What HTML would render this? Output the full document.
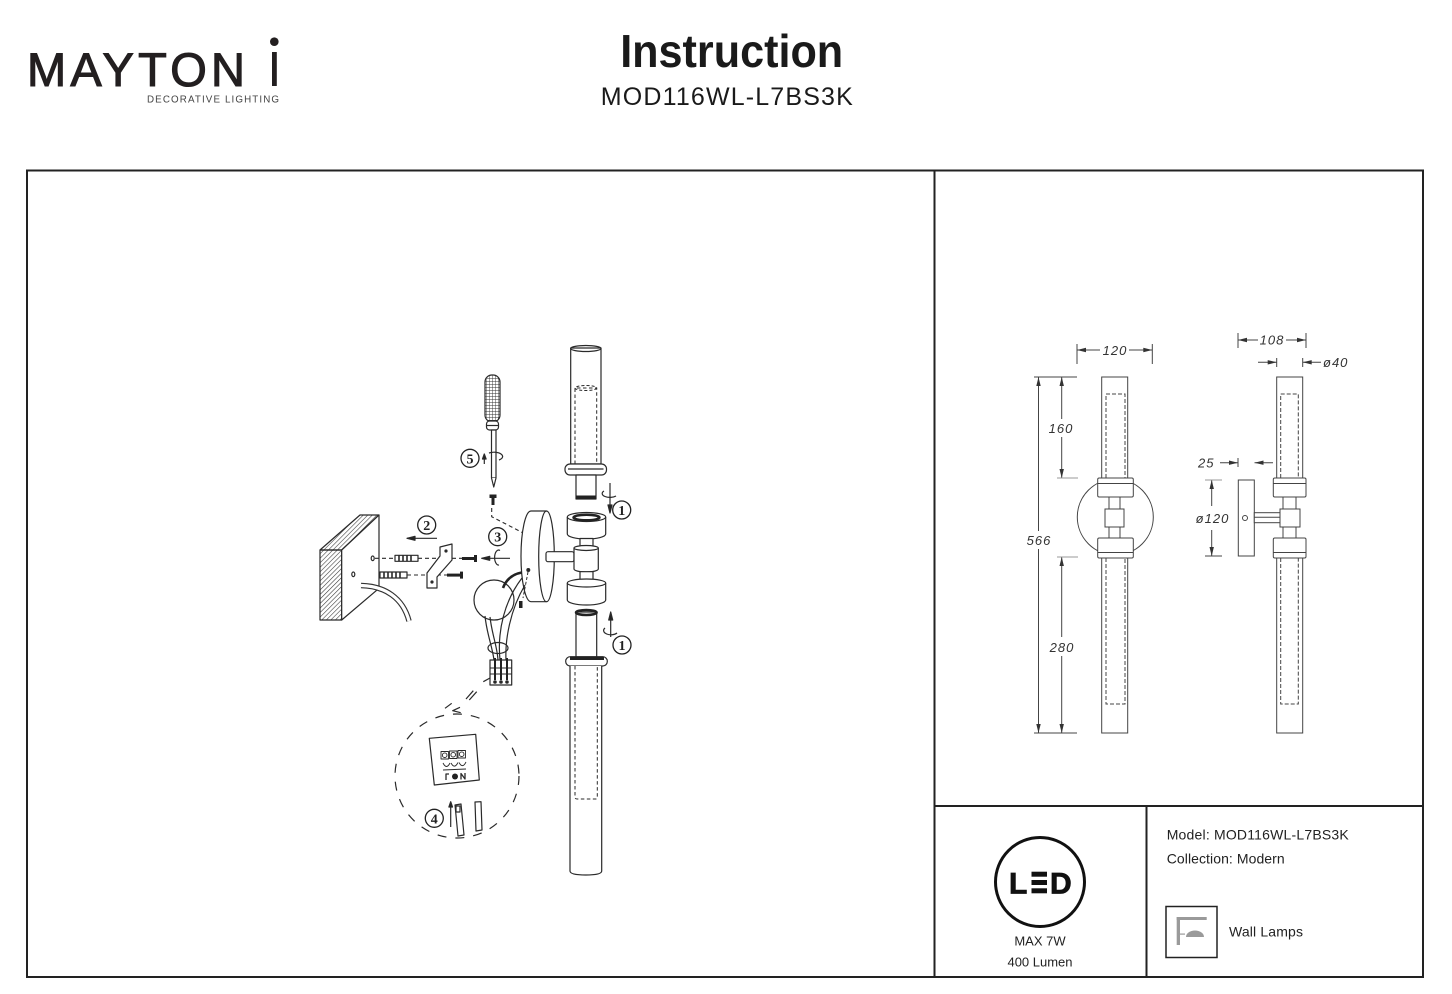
<!DOCTYPE html>
<html><head><meta charset="utf-8"><style>
html,body{margin:0;padding:0;background:#fff;}
svg{display:block;}
</style></head><body>
<svg width="1452" height="994" viewBox="0 0 1452 994" xmlns="http://www.w3.org/2000/svg" font-family="'Liberation Sans', sans-serif">
<defs>
<pattern id="hatch" width="3.2" height="3.2" patternUnits="userSpaceOnUse" patternTransform="rotate(45)"><line x1="0" y1="0" x2="0" y2="3.2" stroke="#333" stroke-width="1.1"/></pattern>
<pattern id="grid" width="3" height="3" patternUnits="userSpaceOnUse"><path d="M0 0H3M0 0V3" stroke="#333" stroke-width="0.9" fill="none"/></pattern>
</defs>

<!-- Logo -->
<text x="27" y="86" font-size="47" fill="#231f20" stroke="#231f20" stroke-width="1.1" textLength="218">MAYTON</text>
<rect x="272" y="52" width="4.8" height="34" fill="#231f20"/>
<circle cx="274.3" cy="41.7" r="4.3" fill="#231f20"/>
<text x="147" y="102.5" font-size="9.8" fill="#444" textLength="132">DECORATIVE LIGHTING</text>

<!-- Title -->
<text x="731.7" y="67" font-size="46" font-weight="bold" fill="#1a1a1a" text-anchor="middle" textLength="223" lengthAdjust="spacingAndGlyphs">Instruction</text>
<text x="726.8" y="105" font-size="25" fill="#1a1a1a" text-anchor="middle" textLength="252">MOD116WL-L7BS3K</text>

<!-- Frame -->
<g stroke="#222" stroke-width="2" fill="none">
<rect x="27" y="170.5" width="1396" height="806.5"/>
<line x1="934.5" y1="170" x2="934.5" y2="977"/>
<line x1="934" y1="806" x2="1423" y2="806"/>
<line x1="1146.5" y1="806" x2="1146.5" y2="977"/>
</g>

<!-- ===== Dimension drawing: front view ===== -->
<g stroke="#444" stroke-width="1" fill="none">
<circle cx="1115.3" cy="517" r="38"/>
<rect x="1101.7" y="377" width="26" height="101" fill="#fff"/>
<rect x="1101.7" y="558" width="26" height="175" fill="#fff"/>
<path d="M1106 478V394H1125V478" stroke-dasharray="4 2"/>
<path d="M1106 558V704H1125V558" stroke-dasharray="4 2"/>
<rect x="1097.7" y="478" width="35.6" height="19" rx="1.5" fill="#fff"/>
<line x1="1097.7" y1="483.5" x2="1133.3" y2="483.5"/>
<rect x="1097.7" y="538" width="35.6" height="20" rx="1.5" fill="#fff"/>
<line x1="1097.7" y1="552.5" x2="1133.3" y2="552.5"/>
<rect x="1109" y="497" width="11" height="12" fill="#fff"/>
<rect x="1109" y="527" width="11" height="11" fill="#fff"/>
<rect x="1105" y="509" width="19" height="18" fill="#fff"/>
</g>
<g stroke="#444" stroke-width="1">
<line x1="1077" y1="344" x2="1077" y2="364"/>
<line x1="1152.3" y1="344" x2="1152.3" y2="364"/>
<line x1="1077" y1="350" x2="1100" y2="350"/>
<line x1="1129" y1="350" x2="1152.3" y2="350"/>
<line x1="1038.5" y1="377" x2="1038.5" y2="531"/>
<line x1="1038.5" y1="549" x2="1038.5" y2="733"/>
<line x1="1061.7" y1="377" x2="1061.7" y2="419"/>
<line x1="1061.7" y1="437" x2="1061.7" y2="478"/>
<line x1="1061.7" y1="557" x2="1061.7" y2="637"/>
<line x1="1061.7" y1="656" x2="1061.7" y2="733"/>
<line x1="1034" y1="377" x2="1077" y2="377"/>
<line x1="1034" y1="733" x2="1077" y2="733"/>
<line x1="1057" y1="478" x2="1078" y2="478" stroke="#999"/>
<line x1="1057" y1="557" x2="1078" y2="557" stroke="#999"/>
</g>
<g fill="#333">
<polygon points="1077,350 1086,347.8 1086,352.2"/>
<polygon points="1152.3,350 1143.3,347.8 1143.3,352.2"/>
<polygon points="1038.5,377 1036.3,386 1040.7,386"/>
<polygon points="1038.5,733 1036.3,724 1040.7,724"/>
<polygon points="1061.7,377 1059.5,386 1063.9,386"/>
<polygon points="1061.7,478 1059.5,469 1063.9,469"/>
<polygon points="1061.7,557 1059.5,566 1063.9,566"/>
<polygon points="1061.7,733 1059.5,724 1063.9,724"/>
</g>
<g font-size="13" font-style="italic" fill="#333" text-anchor="middle" letter-spacing="1">
<text x="1115" y="355">120</text>
<text x="1039" y="545">566</text>
<text x="1061" y="433">160</text>
<text x="1062" y="652">280</text>
</g>

<!-- ===== Dimension drawing: side view ===== -->
<g stroke="#444" stroke-width="1" fill="none">
<rect x="1276.7" y="377" width="26" height="101" fill="#fff"/>
<rect x="1276.7" y="558" width="26" height="175" fill="#fff"/>
<path d="M1280.7 478V394H1298.3V478" stroke-dasharray="4 2"/>
<path d="M1280.7 558V704H1298.3V558" stroke-dasharray="4 2"/>
<rect x="1273.3" y="478" width="32.7" height="19" rx="1.5" fill="#fff"/>
<line x1="1273.3" y1="483.5" x2="1306" y2="483.5"/>
<rect x="1273.3" y="538" width="32.7" height="20" rx="1.5" fill="#fff"/>
<line x1="1273.3" y1="552.5" x2="1306" y2="552.5"/>
<rect x="1283" y="497" width="13" height="12" fill="#fff"/>
<rect x="1283" y="527" width="13" height="11" fill="#fff"/>
<rect x="1280" y="509" width="20" height="18" fill="#fff"/>
<rect x="1238.3" y="480" width="16" height="76" fill="#fff"/>
<circle cx="1245" cy="518" r="2.5"/>
<rect x="1254.3" y="512.7" width="25.7" height="10" fill="#fff"/>
<line x1="1254.3" y1="517.2" x2="1280" y2="517.2"/>
</g>
<g stroke="#444" stroke-width="1">
<line x1="1238" y1="333" x2="1238" y2="348"/>
<line x1="1306" y1="333" x2="1306" y2="348"/>
<line x1="1238" y1="340" x2="1258" y2="340"/>
<line x1="1286" y1="340" x2="1306" y2="340"/>
<line x1="1258" y1="362.3" x2="1276.7" y2="362.3"/>
<line x1="1276.7" y1="358" x2="1276.7" y2="367"/>
<line x1="1302.7" y1="358" x2="1302.7" y2="367"/>
<line x1="1302.7" y1="362.3" x2="1321" y2="362.3"/>
<line x1="1220" y1="462.7" x2="1238" y2="462.7"/>
<line x1="1238" y1="458" x2="1238" y2="467"/>
<line x1="1254.5" y1="462.7" x2="1273" y2="462.7"/>
<line x1="1211.7" y1="480" x2="1211.7" y2="506"/>
<line x1="1211.7" y1="530" x2="1211.7" y2="556"/>
<line x1="1205" y1="480" x2="1222" y2="480" stroke="#999"/>
<line x1="1205" y1="556" x2="1222" y2="556"/>
</g>
<g fill="#333">
<polygon points="1238,340 1247,337.8 1247,342.2"/>
<polygon points="1306,340 1297,337.8 1297,342.2"/>
<polygon points="1276.7,362.3 1267.7,360.1 1267.7,364.5"/>
<polygon points="1302.7,362.3 1311.7,360.1 1311.7,364.5"/>
<polygon points="1238,462.7 1229,460.5 1229,464.9"/>
<polygon points="1254.5,462.7 1263.5,460.5 1263.5,464.9"/>
<polygon points="1211.7,480 1209.5,489 1213.9,489"/>
<polygon points="1211.7,556 1209.5,547 1213.9,547"/>
</g>
<g font-size="13" font-style="italic" fill="#333" letter-spacing="1">
<text x="1272" y="344.5" text-anchor="middle">108</text>
<text x="1323" y="367">ø40</text>
<text x="1198" y="467.5">25</text>
<text x="1212.5" y="523" text-anchor="middle">ø120</text>
</g>

<!-- ===== Exploded assembly diagram ===== -->
<g stroke="#2a2a2a" stroke-width="1.2" fill="none" stroke-linejoin="round">
<!-- wall block -->
<polygon points="320,550 360,515 379,515 341.7,550" fill="url(#hatch)"/>
<polygon points="320,550 341.7,550 341.7,620 320,620" fill="url(#hatch)"/>
<polygon points="341.7,550 379,515 379,588.3 341.7,620" fill="#fff"/>
<ellipse cx="372.7" cy="558.3" rx="1.5" ry="2.3"/>
<ellipse cx="353.3" cy="574.3" rx="1.5" ry="2.3"/>
<path d="M361 585.5 C385 586 403 598 409 621" stroke="#333" stroke-width="5.5"/>
<path d="M361 585.5 C385 586 403 598 409 621" stroke="#fff" stroke-width="3.2"/>

<!-- dashed guide lines -->
<g stroke-dasharray="4 3" stroke-width="1.1">
<line x1="375" y1="558.3" x2="395" y2="558.3"/>
<line x1="418" y1="558.3" x2="440" y2="558.3"/>
<line x1="452" y1="558.3" x2="462" y2="558.3"/>
<line x1="407" y1="575" x2="427" y2="575"/>
<line x1="437" y1="575" x2="447" y2="575"/>
<path d="M491.7 508V516.7L522.7 532.7"/>
</g>

<!-- anchors -->
<rect x="395" y="555.3" width="23" height="6" fill="#fff"/>
<path d="M399 555.3V561.3M403 555.3V561.3M407 555.3V561.3M411 555.3V561.3" stroke-width="1.6"/>
<rect x="380" y="572" width="27" height="6" fill="#fff"/>
<path d="M384 572V578M388 572V578M392 572V578M396 572V578M400 572V578" stroke-width="1.6"/>

<!-- bracket -->
<polygon points="440,547 452,544 452,560 437,577 437,588 427,588 427,573 440,556" fill="#fff"/>
<circle cx="446" cy="551" r="1" fill="#333"/>
<circle cx="432" cy="582" r="1" fill="#333"/>

<!-- screws -->
<rect x="462" y="557" width="12" height="3" fill="#222" stroke="none"/>
<rect x="474" y="555" width="3" height="7" fill="#222" stroke="none"/>
<rect x="447" y="573.6" width="13" height="3" fill="#222" stroke="none"/>
<rect x="460" y="571.6" width="3" height="7" fill="#222" stroke="none"/>

<!-- step 2 arrow -->
<line x1="407" y1="538.3" x2="437" y2="538.3"/>
<polygon points="407,538.3 415,536.3 415,540.3" fill="#222"/>

<!-- step 3 rotate arrow -->
<line x1="481.7" y1="558.3" x2="510" y2="558.3"/>
<polygon points="481.7,558.3 489.7,556.3 489.7,560.3" fill="#222"/>
<path d="M500 550.5 A4 7.5 0 1 0 499 565"/>

<!-- screwdriver -->
<rect x="485" y="375" width="15" height="47" rx="7" fill="url(#grid)"/>
<rect x="486.5" y="421" width="12" height="9" rx="3" fill="#fff"/>
<line x1="486.5" y1="425.5" x2="498.5" y2="425.5"/>
<rect x="491.5" y="430" width="4.5" height="48" fill="#fff"/>
<path d="M491.5 478L493.75 487L496 478" fill="#fff"/>
<rect x="489.5" y="494.5" width="7" height="3.5" fill="#222" stroke="none"/>
<rect x="491.5" y="498" width="3" height="7" fill="#222" stroke="none"/>
<line x1="484.3" y1="456" x2="484.3" y2="464"/>
<polygon points="484.3,454 482.5,459 486.1,459" fill="#222"/>
<path d="M489 453 A7 3.5 0 1 1 499 460"/>

<!-- wall plate disc -->
<path d="M531 511 L546.5 511 A7.8 45.3 0 0 1 546.5 601.7 L531 601.7 A10 45.3 0 0 1 531 511Z" fill="#fff"/>
<path d="M546.5 511 A7.8 45.3 0 0 0 546.5 601.7"/>
<rect x="546" y="551.7" width="28" height="10" rx="2" fill="#fff"/>
<circle cx="528.3" cy="570" r="1.4" fill="#222"/>
<line x1="528" y1="572" x2="523" y2="598" stroke-dasharray="3 2" stroke-width="1"/>
<rect x="519" y="601" width="3.5" height="7" fill="#222" stroke="none"/>

<!-- cable ball and wires -->
<circle cx="494" cy="600" r="20"/>
<path d="M521.7 572.5 Q508 575 503 588" stroke="#222" stroke-width="2.6"/>
<path d="M522 578 C505 600 497 630 500 660"/>
<path d="M525 585 C510 610 505 640 506 660"/>
<path d="M485 616 C487 635 492 645 494 660"/>
<path d="M490 617 C492 635 497 645 498 660"/>
<ellipse cx="498" cy="648" rx="10" ry="5.5"/>
<rect x="490" y="660" width="21.7" height="25" fill="#fff"/>
<line x1="490" y1="668" x2="511.7" y2="668" stroke-width="1"/>
<line x1="490" y1="674" x2="511.7" y2="674" stroke-width="1"/>
<path d="M495 658V680M501 658V680M507 658V680" stroke="#222" stroke-width="2"/>
<circle cx="495" cy="682" r="1.2" fill="#222"/>
<circle cx="501" cy="682" r="1.2" fill="#222"/>
<circle cx="507" cy="682" r="1.2" fill="#222"/>
<line x1="483.3" y1="681.7" x2="490" y2="678"/>
<line x1="466" y1="699" x2="473.3" y2="690.7"/>
<line x1="469.3" y1="700" x2="476.7" y2="691.7"/>
<line x1="445" y1="708.3" x2="451.7" y2="703.3"/>
<path d="M460 707.3L452.7 710.7L460.7 712.7"/>

<!-- magnifier -->
<circle cx="457" cy="776" r="62" stroke-dasharray="9 9"/>
<polygon points="429.3,738.3 475.7,734.3 479.3,780 434.3,785" fill="#fff"/>
<g stroke-width="0.9">
<rect x="441" y="751.5" width="7.5" height="7.5"/>
<rect x="449.5" y="751" width="7.5" height="7.5"/>
<rect x="458" y="750.5" width="7.5" height="7.5"/>
<circle cx="444.7" cy="755.2" r="2.3"/>
<circle cx="453.2" cy="754.7" r="2.3"/>
<circle cx="461.7" cy="754.2" r="2.3"/>
<path d="M443 763 Q446.5 770 450 763M451 763 Q454.5 769.5 458 762.5M459 762.5 Q462.5 769 466 762"/>
<line x1="443" y1="770" x2="466" y2="769"/>
</g>
<path d="M446 780V774H449" stroke-width="1.3"/>
<circle cx="455" cy="776.5" r="3" fill="#222" stroke="none"/>
<path d="M461 779.5V773.5L465 779V773" stroke-width="1.3"/>
<polygon points="455,805 461,804 464,835 458,836" fill="#fff"/>
<rect x="456" y="806" width="4" height="6"/>
<polygon points="475,802 481,801.7 482,830 476,831" fill="#fff"/>
<line x1="450.7" y1="827" x2="450.7" y2="805"/>
<polygon points="450.7,801.7 448.9,807 452.5,807" fill="#222"/>

<!-- top tube -->
<rect x="570.7" y="348" width="30.3" height="116" fill="#fff"/>
<ellipse cx="585.85" cy="348.5" rx="15.15" ry="3"/>
<path d="M575 464V388H596.7V464" stroke-dasharray="3.5 2.5" stroke-width="1"/>
<ellipse cx="585.85" cy="388" rx="10.85" ry="2.5" stroke-dasharray="3 2" stroke-width="1"/>
<rect x="565" y="464" width="41.5" height="11" rx="5" fill="#fff"/>
<line x1="568" y1="469" x2="603.5" y2="469"/>
<rect x="576" y="475" width="20" height="24" fill="#fff"/>
<rect x="576" y="495.5" width="20" height="3.5" fill="#222" stroke="none"/>
<line x1="610" y1="483" x2="610" y2="508"/>
<polygon points="610,513 608,505 612,505" fill="#222"/>
<path d="M604 491 A7 3.5 0 1 0 616 496"/>

<!-- socket and body -->
<path d="M567.3 517V534A19.2 5 0 0 0 605.7 534V517" fill="#fff"/>
<ellipse cx="586.5" cy="517" rx="19.2" ry="4.5" fill="#fff"/>
<ellipse cx="586.5" cy="517.5" rx="13" ry="2.8" stroke="#222" stroke-width="2.5"/>
<rect x="580" y="538.5" width="13" height="8.2" fill="#fff"/>
<path d="M574 548V569A12.15 3 0 0 0 598.3 569V548" fill="#fff"/>
<ellipse cx="586.15" cy="548" rx="12.15" ry="2.5" fill="#fff"/>
<rect x="580" y="571.7" width="13" height="8" fill="#fff"/>
<path d="M567.3 583V600A19.2 5 0 0 0 605.7 600V583" fill="#fff"/>
<ellipse cx="586.5" cy="583" rx="19.2" ry="4" fill="#fff"/>

<!-- lower tube -->
<rect x="576" y="612" width="20.7" height="45" fill="#fff"/>
<ellipse cx="586.3" cy="612.5" rx="10.3" ry="2.5" stroke="#222" stroke-width="2.5"/>
<rect x="565.7" y="656.7" width="41.6" height="9.3" rx="4.5" fill="#fff"/>
<rect x="570" y="656.5" width="34" height="3.5" fill="#222" stroke="none"/>
<path d="M570 666V871Q570 875 585.8 875Q601.7 875 601.7 871V666" fill="#fff"/>
<path d="M575 666V797Q575 799 577 799H595.3Q597.3 799 597.3 797V666" stroke-dasharray="3.5 2.5" stroke-width="1"/>
<line x1="610.7" y1="617" x2="610.7" y2="637"/>
<polygon points="610.7,612 608.7,620 612.7,620" fill="#222"/>
<path d="M605 628 A6 3.5 0 1 0 617 633"/>
</g>

<!-- circled step numbers -->
<g stroke="#222" stroke-width="1.3" fill="#fff">
<circle cx="621.7" cy="510" r="9"/>
<circle cx="622" cy="645" r="9"/>
<circle cx="426.7" cy="525" r="9"/>
<circle cx="497.7" cy="536.7" r="9"/>
<circle cx="434.3" cy="818.3" r="9"/>
<circle cx="470" cy="458.3" r="9"/>
</g>
<g font-family="'Liberation Serif', serif" font-weight="bold" font-size="14" fill="#222" text-anchor="middle">
<text x="621.7" y="515">1</text>
<text x="622" y="650">1</text>
<text x="426.7" y="530">2</text>
<text x="497.7" y="541.7">3</text>
<text x="434.3" y="823.3">4</text>
<text x="470" y="463.3">5</text>
</g>

<!-- ===== Bottom info ===== -->
<circle cx="1040" cy="882" r="44.5" fill="none" stroke="#111" stroke-width="3"/>
<text x="1009" y="893.3" font-size="30" font-weight="bold" fill="#111" stroke="#111" stroke-width="0.8">L</text>
<rect x="1031.5" y="871.7" width="15.5" height="5" fill="#111"/>
<rect x="1031.5" y="880" width="15.5" height="5" fill="#111"/>
<rect x="1031.5" y="888.3" width="15.5" height="5" fill="#111"/>
<text x="1050" y="893.3" font-size="30" font-weight="bold" fill="#111" stroke="#111" stroke-width="0.8">D</text>
<g font-size="13" fill="#222" text-anchor="middle">
<text x="1040" y="945.7">MAX 7W</text>
<text x="1040" y="966.7">400 Lumen</text>
</g>
<g font-size="14" fill="#222">
<text x="1166.7" y="839.3" textLength="182">Model: MOD116WL-L7BS3K</text>
<text x="1166.7" y="863.3" textLength="118">Collection: Modern</text>
<text x="1229" y="936.7" textLength="74">Wall Lamps</text>
</g>
<rect x="1166" y="906.5" width="51" height="51" fill="none" stroke="#222" stroke-width="1.5"/>
<g fill="#9a9a9a">
<rect x="1176.7" y="917" width="3.3" height="28"/>
<rect x="1176.7" y="917" width="30" height="3"/>
<rect x="1180" y="933.5" width="5" height="1.2"/>
<path d="M1186 937A9 6.5 0 0 1 1204 937Z"/>
</g>
</svg>
</body></html>
